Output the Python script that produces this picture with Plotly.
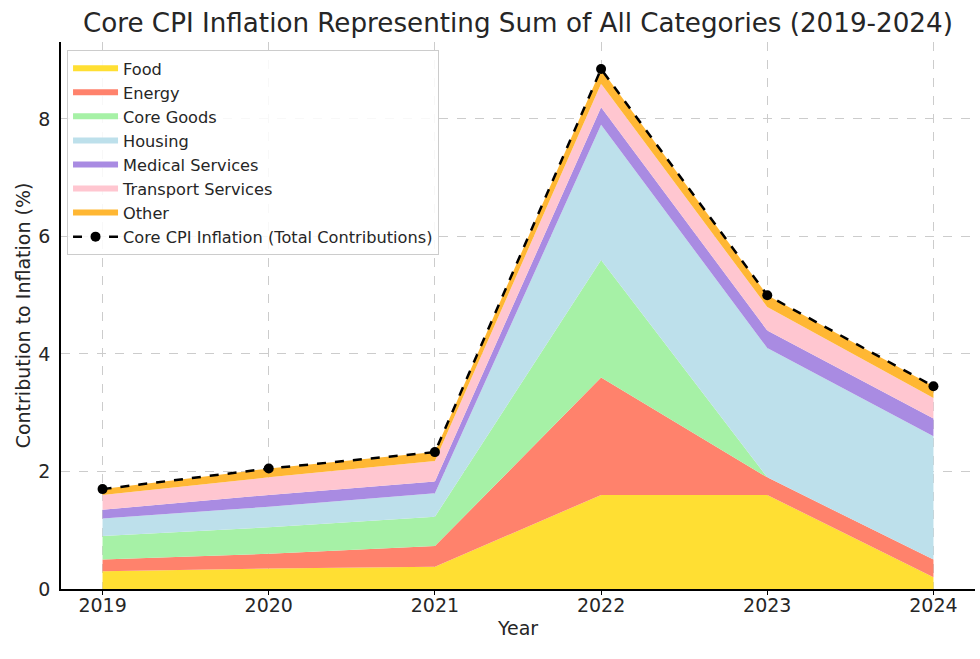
import plotly.graph_objects as go

years = [2019, 2020, 2021, 2022, 2023, 2024]
food = [0.30, 0.35, 0.38, 1.60, 1.60, 0.20]
energy = [0.20, 0.25, 0.35, 2.00, 0.30, 0.30]
core_goods = [0.40, 0.45, 0.50, 2.00, 0.00, 0.00]
housing = [0.30, 0.35, 0.40, 2.30, 2.20, 2.10]
medical = [0.15, 0.20, 0.20, 0.30, 0.30, 0.30]
transport = [0.25, 0.30, 0.35, 0.40, 0.40, 0.35]
other = [0.10, 0.15, 0.15, 0.25, 0.20, 0.20]

names = ["Food", "Energy", "Core Goods", "Housing", "Medical Services",
         "Transport Services", "Other"]
series = [food, energy, core_goods, housing, medical, transport, other]
colors = ["#FFDF33", "#FF826C", "#A6F1A6", "#BDE0EB", "#A98BE2", "#FFC6D0", "#FFB733"]

total = [round(sum(v), 4) for v in zip(*series)]

fig = go.Figure()
for i, (n, s, c) in enumerate(zip(names, series, colors)):
    fig.add_trace(go.Scatter(
        x=years, y=s, name=n, mode="none", stackgroup="one",
        fillcolor=c, legendgroup=f"g{i}", hoverinfo="x+y+name"))

fig.add_trace(go.Scatter(
    x=years, y=total, name="Core CPI Inflation (Total Contributions)",
    mode="lines+markers", legendgroup="gt",
    line=dict(color="black", width=2.5, dash="dash"),
    marker=dict(color="black", size=10)))

font_family = "DejaVu Sans"
fig.update_layout(
    width=980, height=659,
    margin=dict(l=61, r=5, t=42, b=70, autoexpand=False),
    paper_bgcolor="white", plot_bgcolor="white",
    font=dict(family=font_family, color="#262626", size=16),
    title=dict(text="Core CPI Inflation Representing Sum of All Categories (2019-2024)",
               x=0.5285, xanchor="center", y=1 - 23 / 659, yanchor="middle",
               font=dict(size=26.2, family=font_family, color="#262626"),
               automargin=False),
    showlegend=True,
    legend=dict(x=0.0066, y=0.985, xanchor="left", yanchor="top",
                bgcolor="rgba(255,255,255,0.85)", bordercolor="#cccccc", borderwidth=1,
                font=dict(size=16.2, family=font_family, color="#262626"),
                tracegroupgap=3.8, traceorder="normal", itemwidth=45),
    xaxis=dict(range=[2018.75, 2024.25], tickmode="array", tickvals=years,
               ticktext=[str(y) for y in years], automargin=False,
               showgrid=True, gridcolor="#cccccc", griddash="dash", gridwidth=1,
               showline=True, linecolor="black", linewidth=1.5,
               ticks="outside", ticklen=4, tickcolor="black", ticklabelstandoff=-6,
               tickfont=dict(size=19), zeroline=False,
               title=dict(text="Year", font=dict(size=19), standoff=7)),
    yaxis=dict(range=[0, 9.31], tickvals=[0, 2, 4, 6, 8], automargin=False,
               showgrid=True, gridcolor="#cccccc", griddash="dash", gridwidth=1,
               showline=True, linecolor="black", linewidth=1.5,
               ticks="", ticklabelstandoff=5,
               tickfont=dict(size=19), zeroline=False,
               title=dict(text="Contribution to Inflation (%)", font=dict(size=19), standoff=3)),
)

fig.write_html("out.html", post_script="document.body.style.margin='0';",
               config={"displayModeBar": False})
